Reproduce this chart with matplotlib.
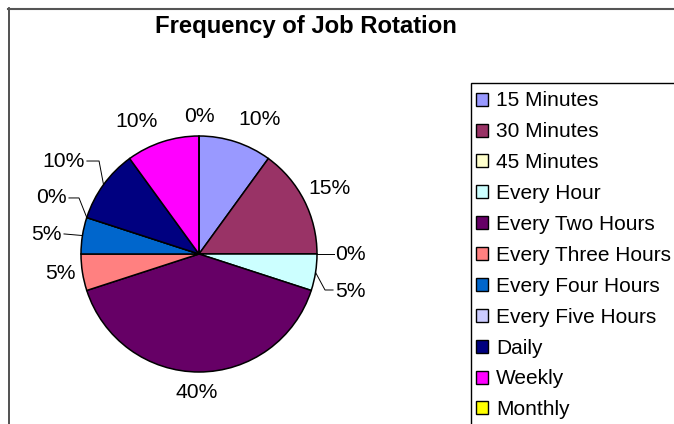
import matplotlib
matplotlib.use("Agg")
import matplotlib.pyplot as plt
import numpy as np
from matplotlib.lines import Line2D
from matplotlib.patches import Rectangle

plt.rcParams['font.family'] = ['Liberation Sans', 'DejaVu Sans']

categories = ["15 Minutes", "30 Minutes", "45 Minutes", "Every Hour", "Every Two Hours",
              "Every Three Hours", "Every Four Hours", "Every Five Hours", "Daily",
              "Weekly", "Monthly"]
shares = [10, 15, 0, 5, 40, 5, 5, 0, 10, 10, 0]
colors = ["#9999FF", "#993366", "#FFFFCC", "#CCFFFF", "#660066", "#FF8080",
          "#0066CC", "#CCCCFF", "#000080", "#FF00FF", "#FFFF00"]

W, H = 674, 424
FS = 15.2
LFS = 15.0
fig = plt.figure(figsize=(W / 100, H / 100), dpi=100)
fig.patch.set_facecolor("white")

# pie centre (199, 254) px, radius 118 px
cx, cy, r = 199, 254, 118
ax = fig.add_axes([(cx - r) / W, (H - cy - r) / H, 2 * r / W, 2 * r / H])
wedges, _ = ax.pie(shares, colors=colors, startangle=90, counterclock=False,
                   wedgeprops=dict(edgecolor="black", linewidth=1.1))
ax.set_xlim(-1, 1)
ax.set_ylim(-1, 1)
ax.set_aspect("equal")
ax.axis("off")

# label placement: (x, y, ha, leader elbow/anchor points) in radius units
place = [
    (0.517, 1.136, "center", None),
    (1.110, 0.559, "center", None),
    (1.153, 0.000, "left", [(1.144, 0.0)]),
    (1.153, -0.322, "left", [(1.068, -0.305), (1.136, -0.305)]),
    (-0.017, -1.170, "center", None),
    (-1.178, -0.169, "center", None),
    (-1.161, 0.169, "right", [(-1.144, 0.17)]),
    (-1.119, 0.475, "right", [(-1.017, 0.475), (-1.102, 0.475)]),
    (-0.966, 0.788, "right", [(-0.847, 0.788), (-0.950, 0.788)]),
    (-0.525, 1.127, "center", None),
    (0.000, 1.165, "center", None),
]
for w, val, (lx, ly, ha, leader) in zip(wedges, shares, place):
    ax.text(lx, ly, f"{val}%", ha=ha, va="center", fontsize=FS, clip_on=False)
    if leader:
        mid = np.deg2rad((w.theta1 + w.theta2) / 2)
        pts = [(np.cos(mid), np.sin(mid))] + leader
        xs, ys = zip(*pts)
        ax.plot(xs, ys, color="black", lw=0.7, clip_on=False)

fig.text(306 / W, 1 - 26 / H, "Frequency of Job Rotation", ha="center", va="center",
         fontsize=17.2, fontweight="bold")

# chart frame
fig.add_artist(Line2D([8.5 / W, 8.5 / W], [0, 1 - 8 / H], transform=fig.transFigure,
                      color="#333333", lw=1.2))
fig.add_artist(Line2D([8 / W, 1], [1 - 8.5 / H, 1 - 8.5 / H], transform=fig.transFigure,
                      color="#555555", lw=1.5))

# legend box (runs past the right and bottom edges)
fig.add_artist(Rectangle((470.5 / W, -0.1), 1.0, 1.1 - 83.5 / H, transform=fig.transFigure,
                         fill=False, edgecolor="black", lw=1.0))
leg = fig.legend(wedges, categories, loc="upper left",
                 bbox_to_anchor=(476 / W, 1 - 91.5 / H), fontsize=LFS,
                 frameon=False,
                 handlelength=0.58, handleheight=0.58, handletextpad=0.38,
                 labelspacing=0.57, borderpad=0, borderaxespad=0)
for h in leg.legend_handles:
    h.set_edgecolor("black")
    h.set_linewidth(1.0)

fig.savefig("out.png", dpi=100)
